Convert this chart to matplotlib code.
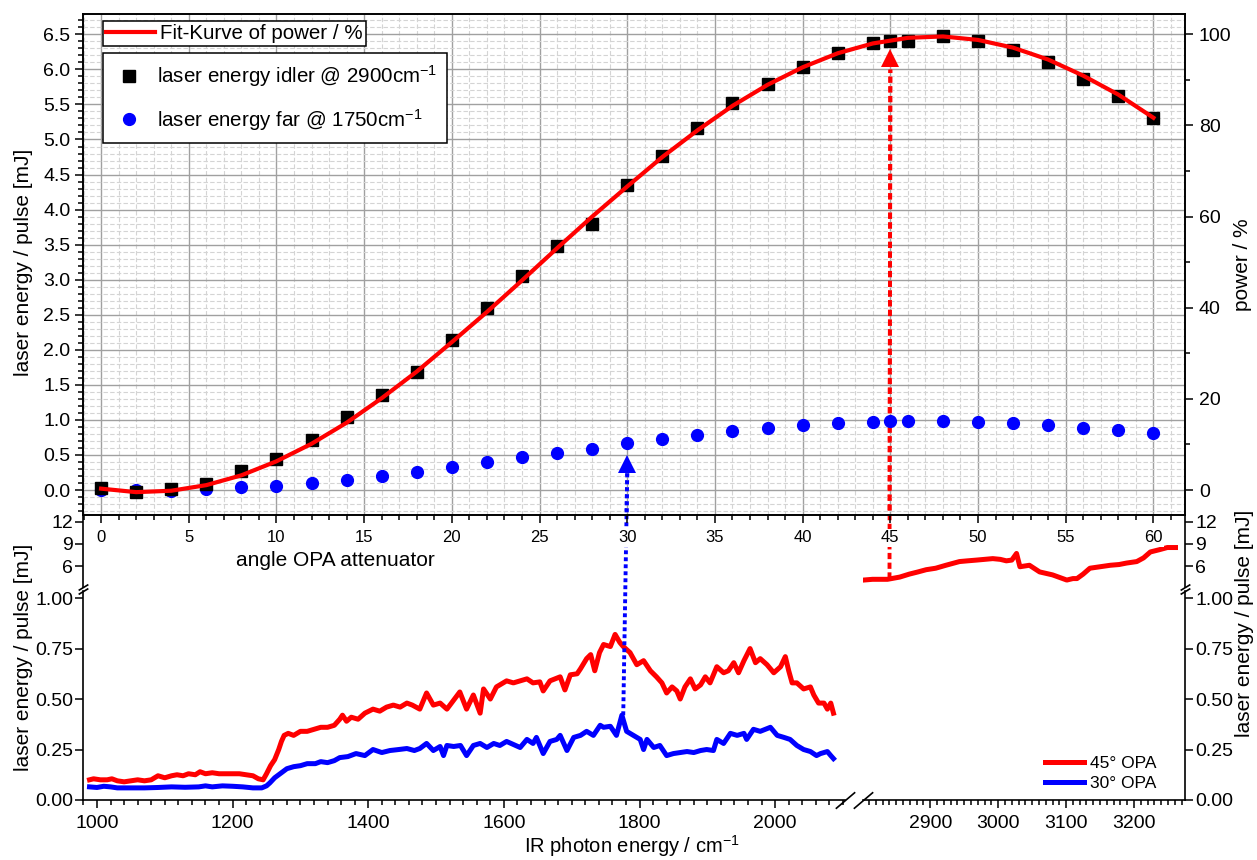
import matplotlib.pyplot as plt
from matplotlib.ticker import MultipleLocator, FixedLocator, FormatStrFormatter

plt.rcParams['font.family'] = ['Liberation Sans', 'DejaVu Sans']
plt.rcParams['mathtext.default'] = 'regular'

# ---- top panel: pulse energy vs. angle of the OPA attenuator
angle = [0, 2, 4, 6, 8, 10, 12, 14, 16, 18, 20, 22, 24, 26, 28, 30, 32, 34, 36, 38,
         40, 42, 44, 45, 46, 48, 50, 52, 54, 56, 58, 60]
idler = [0.03, -0.03, 0.01, 0.09, 0.27, 0.44, 0.71, 1.04, 1.35, 1.68, 2.14, 2.60, 3.06,
         3.48, 3.79, 4.35, 4.76, 5.16, 5.52, 5.79, 6.04, 6.24, 6.37, 6.41, 6.41, 6.47,
         6.41, 6.27, 6.10, 5.86, 5.62, 5.30]
far = [0.0, 0.0, -0.01, 0.01, 0.04, 0.06, 0.10, 0.15, 0.20, 0.26, 0.33, 0.40, 0.47,
       0.53, 0.58, 0.67, 0.73, 0.78, 0.84, 0.88, 0.93, 0.96, 0.97, 0.98, 0.98, 0.98,
       0.97, 0.95, 0.93, 0.89, 0.86, 0.81]
fit_angle = [0, 2, 4, 6, 8, 10, 12, 14, 16, 18, 20, 22, 24, 26, 28, 30, 32, 34, 36, 38,
             40, 42, 44, 46, 48, 50, 52, 54, 56, 58, 60]
fit_energy = [0.02, -0.03, -0.01, 0.07, 0.21, 0.41, 0.66, 0.96, 1.31, 1.69, 2.11, 2.54,
              2.99, 3.45, 3.90, 4.33, 4.75, 5.13, 5.48, 5.78, 6.03, 6.23, 6.37, 6.45,
              6.47, 6.42, 6.31, 6.14, 5.91, 5.64, 5.31]

# ---- lower panel: spectra
wn_45 = [989, 995, 1005, 1015, 1022, 1030, 1040, 1050, 1060, 1070, 1080, 1090, 1100, 1110,
         1118, 1127, 1135, 1145, 1152, 1160, 1170, 1180, 1190, 1200, 1210, 1220, 1230, 1238,
         1245, 1250, 1256, 1262, 1268, 1272, 1276, 1282, 1290, 1300, 1310, 1320, 1330, 1340,
         1350, 1358, 1362, 1368, 1375, 1385, 1395, 1407, 1417, 1427, 1437, 1447, 1457, 1465,
         1476, 1486, 1496, 1506, 1516, 1525, 1535, 1545, 1555, 1565, 1570, 1580, 1589, 1604,
         1614, 1624, 1634, 1643, 1653, 1658, 1668, 1683, 1690, 1698, 1708, 1713, 1722, 1728,
         1734, 1741, 1747, 1757, 1764, 1771, 1776, 1786, 1796, 1806, 1816, 1825, 1833, 1840,
         1848, 1855, 1860, 1867, 1875, 1882, 1890, 1897, 1904, 1914, 1924, 1931, 1939, 1946,
         1954, 1963, 1971, 1978, 1988, 1998, 2008, 2015, 2020, 2025, 2032, 2042, 2052, 2057,
         2064, 2072, 2077, 2082, 2086]
e_45 = [0.10, 0.105, 0.10, 0.10, 0.105, 0.095, 0.09, 0.095, 0.10, 0.095, 0.10, 0.12, 0.11,
        0.12, 0.125, 0.12, 0.13, 0.125, 0.14, 0.13, 0.135, 0.13, 0.13, 0.13, 0.13, 0.125,
        0.12, 0.105, 0.10, 0.13, 0.17, 0.20, 0.25, 0.29, 0.32, 0.33, 0.32, 0.34, 0.34, 0.35,
        0.36, 0.36, 0.37, 0.40, 0.42, 0.39, 0.41, 0.40, 0.43, 0.45, 0.44, 0.46, 0.47, 0.46,
        0.48, 0.47, 0.45, 0.53, 0.47, 0.48, 0.45, 0.49, 0.535, 0.45, 0.52, 0.43, 0.55, 0.50,
        0.56, 0.59, 0.58, 0.59, 0.60, 0.58, 0.585, 0.54, 0.59, 0.61, 0.545, 0.62, 0.625, 0.65,
        0.70, 0.72, 0.64, 0.73, 0.77, 0.76, 0.82, 0.78, 0.76, 0.73, 0.67, 0.69, 0.64, 0.61,
        0.58, 0.53, 0.56, 0.54, 0.50, 0.56, 0.60, 0.55, 0.57, 0.61, 0.58, 0.66, 0.63, 0.64,
        0.68, 0.63, 0.69, 0.75, 0.68, 0.70, 0.67, 0.63, 0.66, 0.71, 0.64, 0.58, 0.58, 0.55,
        0.56, 0.52, 0.48, 0.48, 0.45, 0.48, 0.43]
wn_30 = [989, 1000, 1010, 1020, 1030, 1050, 1070, 1090, 1110, 1130, 1150, 1160, 1170, 1185,
         1200, 1215, 1230, 1243, 1250, 1255, 1262, 1270, 1280, 1290, 1300, 1310, 1322, 1330,
         1340, 1350, 1358, 1370, 1382, 1395, 1407, 1420, 1432, 1445, 1457, 1468, 1476, 1486,
         1496, 1506, 1511, 1516, 1526, 1536, 1545, 1555, 1565, 1575, 1585, 1594, 1604, 1614,
         1624, 1634, 1643, 1648, 1658, 1668, 1678, 1683, 1693, 1703, 1713, 1722, 1732, 1742,
         1747, 1757, 1766, 1774, 1781, 1791, 1801, 1806, 1811, 1821, 1830, 1840, 1850, 1860,
         1870, 1880, 1890, 1899, 1909, 1914, 1924, 1934, 1944, 1954, 1958, 1968, 1978, 1993,
         2003, 2013, 2022, 2032, 2042, 2052, 2061, 2067, 2077, 2082, 2086]
e_30 = [0.065, 0.062, 0.068, 0.065, 0.06, 0.06, 0.06, 0.062, 0.065, 0.063, 0.065, 0.07,
        0.065, 0.07, 0.068, 0.065, 0.06, 0.06, 0.07, 0.085, 0.11, 0.13, 0.155, 0.165, 0.17,
        0.18, 0.18, 0.19, 0.185, 0.195, 0.21, 0.215, 0.23, 0.22, 0.25, 0.235, 0.245, 0.25,
        0.255, 0.245, 0.255, 0.28, 0.245, 0.265, 0.22, 0.27, 0.265, 0.27, 0.22, 0.27, 0.28,
        0.26, 0.28, 0.27, 0.29, 0.275, 0.26, 0.30, 0.28, 0.31, 0.23, 0.29, 0.30, 0.32, 0.245,
        0.31, 0.32, 0.34, 0.32, 0.37, 0.36, 0.365, 0.32, 0.42, 0.34, 0.32, 0.30, 0.25, 0.30,
        0.26, 0.27, 0.22, 0.23, 0.235, 0.24, 0.235, 0.245, 0.25, 0.245, 0.30, 0.28, 0.33,
        0.32, 0.33, 0.30, 0.35, 0.34, 0.36, 0.32, 0.31, 0.30, 0.27, 0.25, 0.24, 0.22, 0.23,
        0.24, 0.22, 0.205]
wn_45_hi = [2802, 2815, 2837, 2855, 2869, 2882, 2894, 2908, 2923, 2943, 2955, 2968, 2980,
            2992, 3003, 3012, 3020, 3027, 3032, 3046, 3061, 3080, 3092, 3101, 3110, 3116,
            3125, 3135, 3150, 3165, 3178, 3189, 3204, 3214, 3224, 3237, 3249, 3261]
e_45_hi = [4.1, 4.2, 4.2, 4.5, 4.9, 5.2, 5.5, 5.7, 6.1, 6.6, 6.7, 6.8, 6.9, 7.0, 6.9, 6.7,
           6.8, 7.7, 5.9, 6.1, 5.2, 4.8, 4.4, 4.1, 4.3, 4.3, 4.9, 5.7, 5.9, 6.1, 6.2, 6.4,
           6.6, 7.1, 7.9, 8.2, 8.5, 8.5]

# arrows linking the two panels: (angle, energy) in the top panel, (wavenumber, energy) below
arrow_30 = dict(top=(30, 0.25), head=(30, 0.375), low=(1776, 0.42))
arrow_45 = dict(top=(45, 6.0), head=(45, 6.16), low=(2840, 4.3))

W, H = 1257, 860
fig = plt.figure(figsize=(W / 100, H / 100), dpi=100)


def box(l, t, r, b):
    return [l / W, 1 - b / H, (r - l) / W, (b - t) / H]


ax_ll = fig.add_axes(box(83, 591, 845, 800))
ax_ul = fig.add_axes(box(83, 515, 845, 587))
ax_lr = fig.add_axes(box(863, 591, 1185, 800))
ax_ur = fig.add_axes(box(863, 515, 1185, 587))
ax = fig.add_axes(box(83, 14, 1185, 515))
axp = ax.twinx()

red, blue = '#ff0000', '#0000ff'
tk = dict(direction='out', width=1.1, colors='black')

# lower panel
lw_s = 3.6
ax_ll.plot(wn_45, e_45, color=red, lw=lw_s, solid_joinstyle='round')
ax_ll.plot(wn_30, e_30, color=blue, lw=lw_s, solid_joinstyle='round')
h45, = ax_ur.plot(wn_45_hi, e_45_hi, color=red, lw=lw_s, solid_joinstyle='round')
h30, = ax_lr.plot([], [], color=blue, lw=lw_s)

for a in (ax_ll, ax_ul, ax_lr, ax_ur):
    a.set_facecolor('none')
    for s in a.spines.values():
        s.set_visible(False)
        s.set_linewidth(1.2)

for a in (ax_ll, ax_ul):
    a.set_xlim(979.4, 2103)
for a in (ax_lr, ax_ur):
    a.set_xlim(2801, 3275)
for a in (ax_ll, ax_lr):
    a.set_ylim(0, 1.035)
    a.yaxis.set_major_locator(FixedLocator([0, 0.25, 0.5, 0.75, 1.0]))
    a.yaxis.set_major_formatter(FormatStrFormatter('%.2f'))
    a.spines['bottom'].set_visible(True)
for a in (ax_ul, ax_ur):
    a.set_ylim(3.16, 12.9)
    a.yaxis.set_major_locator(FixedLocator([6, 9, 12]))
    a.set_xticks([])

ax_ll.spines['left'].set_visible(True)
ax_ul.spines['left'].set_visible(True)
ax_lr.spines['right'].set_visible(True)
ax_ur.spines['right'].set_visible(True)
for a in (ax_lr, ax_ur):
    a.yaxis.tick_right()

ax_ll.xaxis.set_major_locator(MultipleLocator(200))
ax_ll.xaxis.set_minor_locator(MultipleLocator(20))
ax_lr.xaxis.set_major_locator(MultipleLocator(100))
ax_lr.xaxis.set_minor_locator(MultipleLocator(10))
for a in (ax_ll, ax_lr):
    a.tick_params(axis='x', which='major', length=6, labelsize=14, pad=5, **tk)
    a.tick_params(axis='x', which='minor', length=3.5, **tk)
for a in (ax_ll, ax_ul):
    a.tick_params(axis='y', which='major', length=6, labelsize=14, pad=1, **tk)
for a in (ax_lr, ax_ur):
    a.tick_params(axis='y', which='major', length=6, labelsize=14, pad=1.5, **tk)

# break marks
kw = dict(marker=[(-1, -0.85), (1, 0.85)], markersize=14, linestyle='none',
          color='k', mec='k', mew=1.2, clip_on=False)
ax_ll.plot([1], [0], transform=ax_ll.transAxes, **kw)
ax_lr.plot([0], [0], transform=ax_lr.transAxes, **kw)
kw.update(marker=[(-1, -0.6), (1, 0.6)], markersize=7)
ax_ul.plot([0], [0], transform=ax_ul.transAxes, **kw)
ax_ll.plot([0], [1], transform=ax_ll.transAxes, **kw)
ax_ur.plot([1], [0], transform=ax_ur.transAxes, **kw)
ax_lr.plot([1], [1], transform=ax_lr.transAxes, **kw)

ax_lr.legend([h45, h30], ['45° OPA', '30° OPA'], loc='lower right',
             bbox_to_anchor=(0.91, 0.045), frameon=False, fontsize=12.5,
             handlelength=2.25, handletextpad=0.3, labelspacing=0.28,
             borderpad=0, borderaxespad=0)

# top panel
ax.plot(angle, far, 'o', color=blue, ms=8.5, zorder=2)
h_idler, = ax.plot(angle, idler, 's', color='black', ms=8, zorder=2.2)
h_far, = ax.plot([], [], 'o', color=blue, ms=8.5)
h_fit, = ax.plot(fit_angle, fit_energy, color=red, lw=3, zorder=2.5)

ax.set_xlim(-1.03, 61.8)
ax.set_ylim(-0.356, 6.79)
axp.set_ylim(-0.356 / 6.5 * 100, 6.79 / 6.5 * 100)
ax.xaxis.set_major_locator(MultipleLocator(5))
ax.xaxis.set_minor_locator(MultipleLocator(1))
ax.yaxis.set_major_locator(MultipleLocator(0.5))
ax.yaxis.set_minor_locator(MultipleLocator(0.1))
ax.yaxis.set_major_formatter(FormatStrFormatter('%.1f'))
axp.yaxis.set_major_locator(MultipleLocator(20))
axp.yaxis.set_minor_locator(MultipleLocator(10))

ax.set_axisbelow(True)
ax.grid(which='major', color='#a0a0a0', lw=1.0, ls='-')
ax.grid(which='minor', color='#d4d4d4', lw=0.8, ls=(0, (4, 2)))

for s in list(ax.spines.values()) + list(axp.spines.values()):
    s.set_linewidth(1.2)
ax.tick_params(axis='x', which='major', length=6, labelsize=12, pad=5, **tk)
ax.tick_params(axis='x', which='minor', length=3.5, **tk)
ax.tick_params(axis='y', which='major', length=6, labelsize=14, pad=3, **tk)
ax.tick_params(axis='y', which='minor', length=3.5, **tk)
axp.tick_params(axis='y', which='major', length=6, labelsize=14, pad=4, **tk)
axp.tick_params(axis='y', which='minor', length=3.5, **tk)

for t in ax.xaxis.get_major_ticks():
    t.label1.set_bbox(dict(facecolor='white', edgecolor='none', pad=1))

ax.set_xlabel('angle OPA attenuator', fontsize=15)
ax.xaxis.set_label_coords(0.2287, -0.072)

leg_kw = dict(loc='upper left', fontsize=14.8, fancybox=False, framealpha=1,
              edgecolor='black', borderaxespad=0)
leg1 = ax.legend([h_fit], ['Fit-Kurve of power / %'], bbox_to_anchor=(0.018, 0.986),
                 handlelength=2.4, handletextpad=0.25, borderpad=0.15, **leg_kw)
leg1.get_frame().set_linewidth(1.1)
ax.add_artist(leg1)
leg2 = ax.legend([h_idler, h_far],
                 ['laser energy idler @ 2900cm$^{-1}$', 'laser energy far @ 1750cm$^{-1}$'],
                 bbox_to_anchor=(0.018, 0.922), handlelength=1.5, handletextpad=0.62,
                 borderpad=0.5, labelspacing=0.85, **leg_kw)
leg2.get_frame().set_linewidth(1.1)

# arrows between panels: the lower end is taken from the lower axes and expressed
# in the top axes' data units, so one dotted line can run across both panels.
# Drawn twice: unclipped under the (white-boxed) tick labels, and clipped to the
# top panel above its grid.
to_top = ax.transData.inverted()
for arr, col, ls, low_ax in ((arrow_30, blue, (0, (1, 0.8)), ax_ll),
                             (arrow_45, red, (0, (1.6, 0.9)), ax_ur)):
    lx, ly = to_top.transform(low_ax.transData.transform(arr['low']))
    for z, clip in ((0.3, False), (1.5, True)):
        ax.plot([lx, arr['top'][0]], [ly, arr['top'][1]], color=col, lw=2.8, ls=ls,
                dash_capstyle='butt', zorder=z, clip_on=clip)
    ax.plot(*arr['head'], marker='^', ms=13, color=col, mew=0, zorder=1.6)

# axis labels
fs = 15
fig.text(24 / W, 1 - 262 / H, 'laser energy / pulse [mJ]', rotation=90,
         ha='center', va='center', fontsize=fs)
fig.text(1243 / W, 1 - 265 / H, 'power / %', rotation=90,
         ha='center', va='center', fontsize=fs)
fig.text(24 / W, 1 - 657 / H, 'laser energy / pulse [mJ]', rotation=90,
         ha='center', va='center', fontsize=fs)
fig.text(1244 / W, 1 - 623 / H, 'laser energy / pulse [mJ]', rotation=90,
         ha='center', va='center', fontsize=fs)
fig.text(632 / W, 1 - 846 / H, 'IR photon energy / cm$^{-1}$',
         ha='center', va='center', fontsize=14.5)

fig.savefig('out.png', dpi=100)
